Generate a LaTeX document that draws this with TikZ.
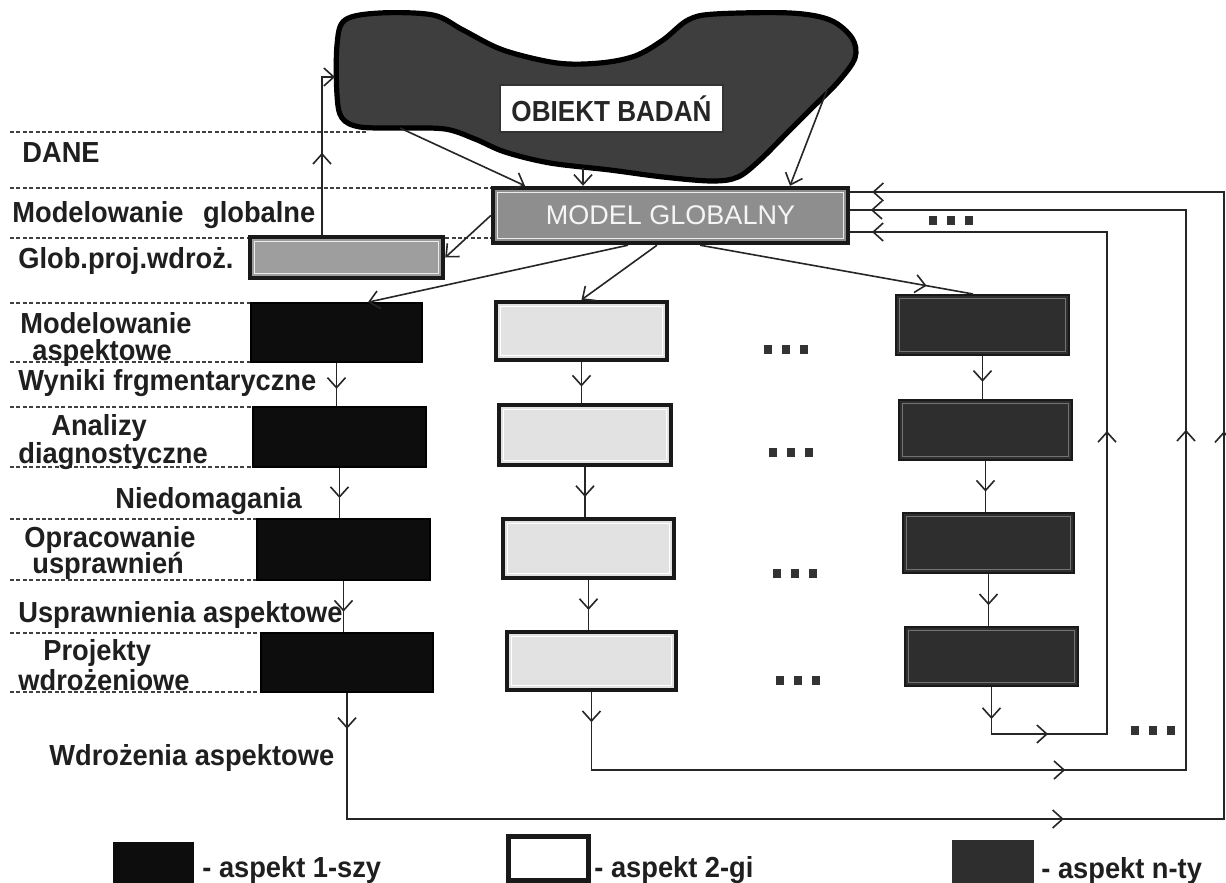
\documentclass[tikz,border=0pt]{standalone}
\usepackage{fontspec}
\setmainfont{Liberation Sans}
\newfontfamily\condfont{Liberation Sans}[FakeStretch=0.94]
\newfontfamily\objfont{Liberation Sans}[FakeStretch=0.9]
\usetikzlibrary{arrows.meta,decorations.markings}
\definecolor{blobfill}{HTML}{3E3E3E}
\definecolor{cthree}{HTML}{2E2E2E}
\definecolor{modelfill}{HTML}{8E8E8E}
\definecolor{globfill}{HTML}{9E9E9E}
\definecolor{whitefill}{HTML}{E2E2E2}
\begin{document}
\begin{tikzpicture}[x=0.5pt,y=-0.5pt,
 >={Straight Barb[length=5pt,width=9pt]},
 conn/.style={line width=0.8pt,draw=black!85},
 am/.style={postaction={decorate,decoration={markings,mark=at position #1 with {\arrow{>}}}}},
 dline/.style={line width=0.8pt,draw=black!75,dash pattern=on 2pt off 1.2pt},
 lab/.style={anchor=west,inner sep=0pt,font=\condfont\fontsize{14.5pt}{15pt}\selectfont\bfseries,text height=10.4pt,text depth=0pt,text=black!88},
 sz/.style 2 args={minimum width=#1*0.5pt,minimum height=#2*0.5pt},
 box/.style={rectangle,inner sep=0pt},
 inner/.style 2 args={path picture={\draw[#1,line width=0.6pt] ([xshift=#2,yshift=-#2]path picture bounding box.north west) rectangle ([xshift=-#2,yshift=#2]path picture bounding box.south east);}},
 c1box/.style={box,draw=black,line width=0.8pt,fill=black!95},
 c2box/.style={box,draw=black!90,line width=2.2pt,fill=whitefill,inner={white}{2.2pt}},
 c3box/.style={box,draw=black!90,line width=1pt,fill=cthree,inner={black!55}{1.6pt}},
 gbox/.style={box,draw=black!90,line width=2.2pt,inner={white!85!gray}{2.2pt}},
 sq/.style={rectangle,inner sep=0pt,fill=black!80,minimum width=4pt,minimum height=4.5pt},
]
\fill[white] (0,0) rectangle (1226,883);
\useasboundingbox (0,0) rectangle (1226,883);

% object of research (blob)
\draw[draw=black,line width=2.6pt,fill=blobfill,line join=round]
  plot[smooth cycle,tension=0.55] coordinates {
  (345,20) (380,13) (433,15) (463,30) (503,50) (557,63) (600,63) (635,56)
  (663,40) (688,20) (715,14) (790,13) (830,20) (852,38) (855,58) (838,82)
  (813,107) (787,133) (760,160) (738,177) (712,181) (663,177) (610,170)
  (550,163) (505,152) (475,139) (445,129) (400,128) (360,127) (342,118)
  (337,95) (337,45)};

% dashed guide lines
\draw[dline] (10,132) -- (367,132);
\draw[dline] (10,188) -- (493,188);
\draw[dline] (10,238) -- (493,238);
\draw[dline] (10,303) -- (251,303);
\draw[dline] (10,362) -- (251,362);
\draw[dline] (10,407) -- (253,407);
\draw[dline] (10,467) -- (253,467);
\draw[dline] (10,519) -- (257,519);
\draw[dline] (10,580) -- (257,580);
\draw[dline] (10,633) -- (261,633);
\draw[dline] (10,692) -- (261,692);

% top nodes
\node[box,draw=black!80,line width=0.8pt,fill=white,sz={223}{47},font=\objfont\fontsize{14.5pt}{15pt}\selectfont\bfseries,text=black!85] (obiekt) at (611.5,108.5) {OBIEKT BADAŃ};
\node[gbox,fill=modelfill,sz={355}{55},text=white!92!gray,font=\fontsize{13.5pt}{14pt}\selectfont] (model) at (670.5,215.5) {MODEL GLOBALNY};
\node[gbox,fill=globfill,sz={193}{41}] (glob) at (346.5,257.5) {};

% column 1
\node[c1box,sz={171}{59}] (c1-1) at (336.5,332.5) {};
\node[c1box,sz={173}{60}] (c1-2) at (339.5,437) {};
\node[c1box,sz={173}{61}] (c1-3) at (343.5,549.5) {};
\node[c1box,sz={172}{59}] (c1-4) at (347,662.5) {};
% column 2
\node[c2box,sz={171}{58}] (c2-1) at (581.5,331) {};
\node[c2box,sz={172}{60}] (c2-2) at (585,435) {};
\node[c2box,sz={171}{59}] (c2-3) at (588.5,548.5) {};
\node[c2box,sz={169}{58}] (c2-4) at (591.5,661) {};
% column 3
\node[c3box,sz={173}{60}] (c3-1) at (982.5,325) {};
\node[c3box,sz={173}{60}] (c3-2) at (985.5,430) {};
\node[c3box,sz={171}{60}] (c3-3) at (988.5,543) {};
\node[c3box,sz={173}{59}] (c3-4) at (991.5,656.5) {};

% left labels
\node[lab] (tDane) at (22,152) {DANE};
\node[lab] (tMG) at (12,212) {Modelowanie\hspace{6pt} globalne};
\node[lab] (tGP) at (18,258) {Glob.proj.wdroż.};
\node[lab] (tMA1) at (20,323) {Modelowanie};
\node[lab] (tMA2) at (32,350) {aspektowe};
\node[lab] (tWF) at (18,380) {Wyniki frgmentaryczne};
\node[lab] (tAD1) at (51,425) {Analizy};
\node[lab] (tAD2) at (18,453) {diagnostyczne};
\node[lab] (tND) at (115,498) {Niedomagania};
\node[lab] (tOU1) at (24,537) {Opracowanie};
\node[lab] (tOU2) at (32,563) {usprawnień};
\node[lab] (tUA) at (18,612) {Usprawnienia aspektowe};
\node[lab] (tPW1) at (43,650) {Projekty};
\node[lab] (tPW2) at (18,680) {wdrożeniowe};
\node[lab] (tWA) at (49,755) {Wdrożenia aspektowe};

% dots
\foreach \n/\x/\y in {r1/768/349, r2/773/452, r3/777/573, r4/780/680, tp/933/220, bt/1135/730}{
  \foreach \k in {0,1,2}{
    \node[sq] (dot-\n-\k) at (\x+18*\k,\y) {};
  }
}

% arrows from the object to the global model
\coordinate (bA) at (400,128);
\coordinate (bB) at (583,168);
\coordinate (bC) at (827,90);
\draw[conn,->] (bA) -- ([xshift=-72.75pt]model.north);
\draw[conn,->] (bB) -- ([xshift=-43.75pt]model.north);
\draw[conn,->] (bC) -- ([xshift=59.75pt]model.north);

% feedback from global implementation project to the object
\coordinate (fbE) at (335,77);
\draw[conn,->,am=41pt] ([xshift=-12.25pt]glob.north) |- (fbE);

% model to glob and to aspects
\draw[conn,->] (model.west) -- (glob.east);
\draw[conn,->] ([xshift=-21.25pt]model.south) -- ([xshift=15.75pt]c1-1.north);
\draw[conn,->] ([xshift=-6.75pt]model.south) -- (c2-1.north);
\draw[conn,am=0.83] ([xshift=14.75pt]model.south) -- ([xshift=-4.75pt]c3-1.north);

% column connectors
\foreach \c in {1,2,3}{
  \foreach \a/\b in {1/2,2/3,3/4}{
    \draw[conn,am=0.6] (c\c-\a.south) -- (c\c-\a.south |- c\c-\b.north);
  }
}

% feedback loops
\coordinate (l1a) at (347,819);
\coordinate (l1b) at (1224,819);
\coordinate (l1c) at (1224,192);
\draw[conn,am=18pt,am=421.5pt,am=695.5pt,am=991pt]
  (c1-4.south) -- (l1a) -- (l1b) -- (l1c) -- (model.east |- l1c);
\coordinate (l2a) at (591.5,770);
\coordinate (l2b) at (1186,770);
\coordinate (l2c) at (1186,210);
\draw[conn,am=15pt,am=275.75pt,am=506.25pt,am=773.75pt]
  (c2-4.south) -- (l2a) -- (l2b) -- (l2c) -- (model.east |- l2c);
\coordinate (l3a) at (991.5,734);
\coordinate (l3b) at (1107,734);
\coordinate (l3c) at (1107,232);
\draw[conn,am=16pt,am=51.75pt,am=232.75pt,am=449.75pt]
  (c3-4.south) -- (l3a) -- (l3b) -- (l3c) -- (model.east |- l3c);

% legend
\node[box,fill=black!95,sz={81}{41}] (lg1) at (153.5,862.5) {};
\node[lab] (lt1) at (202,867) {- aspekt 1-szy};
\node[box,draw=black!90,line width=2.5pt,fill=white,sz={80}{44}] (lg2) at (548,858) {};
\node[lab] (lt2) at (594,867) {- aspekt 2-gi};
\node[box,fill=cthree,sz={82}{43}] (lg3) at (993,861.5) {};
\node[lab] (lt3) at (1041,868) {- aspekt n-ty};
\end{tikzpicture}
\end{document}
